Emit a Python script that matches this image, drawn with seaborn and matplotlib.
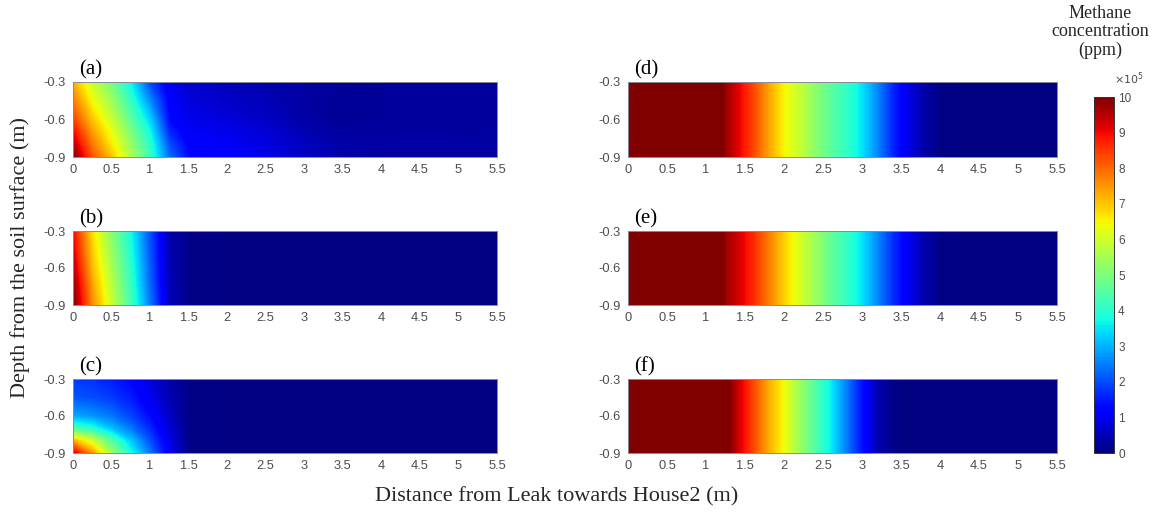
import numpy as np
import matplotlib
matplotlib.use("Agg")
import matplotlib.pyplot as plt
import seaborn as sns

# methane concentration, units of 1e5 ppm
# left column (a)-(c): 2-D fields on a depth x distance grid
x_left = [0, 0.25, 0.5, 0.75, 1.0, 1.25, 1.5, 2.0, 2.5, 3.0, 3.5, 4.0, 4.5, 5.5]
depth_left = [-0.3, -0.45, -0.6, -0.7, -0.8, -0.9]

conc_a = [
    [7.2, 5.9, 4.9, 3.6, 1.9, 1.0, 0.7, 0.5, 0.4, 0.3, 0.25, 0.25, 0.3, 0.3],
    [7.8, 6.4, 5.4, 4.1, 2.6, 1.15, 0.8, 0.65, 0.5, 0.3, 0.2, 0.25, 0.3, 0.3],
    [8.4, 7.0, 5.9, 4.6, 3.3, 1.3, 0.95, 0.8, 0.6, 0.35, 0.2, 0.25, 0.3, 0.3],
    [9.0, 7.4, 6.3, 5.0, 3.7, 1.6, 1.05, 0.95, 0.75, 0.45, 0.28, 0.28, 0.3, 0.3],
    [9.5, 7.8, 6.6, 5.3, 4.0, 2.0, 1.2, 1.05, 0.85, 0.55, 0.35, 0.32, 0.32, 0.3],
    [10.0, 8.2, 7.0, 5.6, 4.2, 2.3, 1.3, 1.15, 0.95, 0.6, 0.4, 0.35, 0.35, 0.3],
]
conc_b = [
    [9.0, 6.7, 5.1, 3.7, 2.0, 0.4, 0.1, 0.05, 0.05, 0.05, 0.05, 0.05, 0.05, 0.05],
    [9.2, 6.9, 5.3, 3.85, 2.05, 0.42, 0.1, 0.05, 0.05, 0.05, 0.05, 0.05, 0.05, 0.05],
    [9.5, 7.1, 5.5, 4.0, 2.15, 0.45, 0.1, 0.05, 0.05, 0.05, 0.05, 0.05, 0.05, 0.05],
    [9.7, 7.3, 5.65, 4.1, 2.2, 0.47, 0.1, 0.05, 0.05, 0.05, 0.05, 0.05, 0.05, 0.05],
    [9.9, 7.45, 5.8, 4.2, 2.3, 0.5, 0.1, 0.05, 0.05, 0.05, 0.05, 0.05, 0.05, 0.05],
    [10.0, 7.6, 5.9, 4.3, 2.4, 0.5, 0.1, 0.05, 0.05, 0.05, 0.05, 0.05, 0.05, 0.05],
]
conc_c = [
    [1.8, 1.7, 1.5, 1.25, 0.8, 0.35, 0.1, 0.05, 0.05, 0.05, 0.05, 0.05, 0.05, 0.05],
    [2.1, 2.0, 1.8, 1.5, 1.0, 0.45, 0.1, 0.05, 0.05, 0.05, 0.05, 0.05, 0.05, 0.05],
    [2.9, 2.7, 2.4, 1.9, 1.3, 0.6, 0.1, 0.05, 0.05, 0.05, 0.05, 0.05, 0.05, 0.05],
    [4.4, 3.9, 3.1, 2.4, 1.6, 0.75, 0.1, 0.05, 0.05, 0.05, 0.05, 0.05, 0.05, 0.05],
    [7.2, 6.0, 4.5, 3.2, 2.0, 0.9, 0.1, 0.05, 0.05, 0.05, 0.05, 0.05, 0.05, 0.05],
    [9.3, 7.5, 5.4, 3.8, 2.4, 1.0, 0.1, 0.05, 0.05, 0.05, 0.05, 0.05, 0.05, 0.05],
]

# right column (d)-(f): uniform with depth, profile along distance
x_right = [0, 1.0, 1.2, 1.3, 1.4, 1.6, 1.8, 2.0, 2.2, 2.4, 2.6, 2.8,
           3.0, 3.2, 3.4, 3.6, 3.8, 4.0, 4.5, 5.5]
depth_right = [-0.3, -0.9]
prof_d = [10, 10, 10, 9.6, 9.2, 8.4, 7.4, 6.5, 5.9, 5.2, 4.6, 4.1,
          3.5, 2.6, 1.6, 0.9, 0.35, 0.1, 0.0, 0.0]
prof_e = [10, 10, 10, 9.6, 9.3, 8.7, 7.8, 6.9, 6.1, 5.4, 4.7, 4.15,
          3.5, 2.6, 1.7, 1.0, 0.4, 0.1, 0.0, 0.0]
prof_f = [10, 10, 10, 10, 9.4, 8.4, 7.3, 6.4, 5.4, 4.5, 3.6, 2.5,
          1.4, 0.45, 0.1, 0.0, 0.0, 0.0, 0.0, 0.0]

x_ticks = [0, 0.5, 1, 1.5, 2, 2.5, 3, 3.5, 4, 4.5, 5, 5.5]
x_tick_labels = ['0', '0.5', '1', '1.5', '2', '2.5', '3', '3.5', '4', '4.5', '5', '5.5']
y_ticks = [-0.9, -0.6, -0.3]
y_tick_labels = ['-0.9', '-0.6', '-0.3']
cbar_ticks = list(range(0, 11))

sns.set_theme(style="white")
plt.rcParams['font.family'] = ['Liberation Sans', 'DejaVu Sans']
TICK_GRAY = '#4d4d4d'
SERIF = ['Liberation Serif', 'DejaVu Serif']
cmap = matplotlib.colormaps['jet']
levels = np.linspace(0, 10, 201)

fig = plt.figure(figsize=(11.52, 5.16), dpi=100)

W, H = 1152.0, 516.0
def box(left, top, right, bottom):
    return [left / W, 1 - bottom / H, (right - left) / W, (bottom - top) / H]

rows = [(82, 157), (231, 305), (379, 453)]
panels = [
    ('(a)', x_left, depth_left, np.array(conc_a), (73, 497), rows[0]),
    ('(b)', x_left, depth_left, np.array(conc_b), (73, 497), rows[1]),
    ('(c)', x_left, depth_left, np.array(conc_c), (73, 497), rows[2]),
    ('(d)', x_right, depth_right, np.tile(prof_d, (2, 1)), (628, 1057), rows[0]),
    ('(e)', x_right, depth_right, np.tile(prof_e, (2, 1)), (628, 1057), rows[1]),
    ('(f)', x_right, depth_right, np.tile(prof_f, (2, 1)), (628, 1057), rows[2]),
]

for tag, xs, ds, vals, (l, r), (t, b) in panels:
    ax = fig.add_axes(box(l, t, r, b))
    X, Y = np.meshgrid(xs, ds)
    ax.contourf(X, Y, vals, levels=levels, cmap=cmap, extend='both',
                antialiased=False)
    ax.set_xlim(0, 5.5)
    ax.set_ylim(-0.9, -0.3)
    ax.set_xticks(x_ticks)
    ax.set_xticklabels(x_tick_labels)
    ax.set_yticks(y_ticks)
    ax.set_yticklabels(y_tick_labels)
    ax.tick_params(axis='both', direction='in', length=3, width=0.6,
                   colors=TICK_GRAY, labelsize=9.3, pad=5)
    for sp in ax.spines.values():
        sp.set_color('#8a8a9a')
        sp.set_linewidth(0.7)
    ax.text(0.015, 1.035, tag, transform=ax.transAxes, family=SERIF,
            fontsize=15, ha='left', va='bottom', color='black')

# colour bar
cax = fig.add_axes(box(1094, 97, 1114, 453))
sm = matplotlib.cm.ScalarMappable(norm=matplotlib.colors.Normalize(0, 10), cmap=cmap)
cb = fig.colorbar(sm, cax=cax, ticks=cbar_ticks)
cb.ax.tick_params(direction='in', length=3, width=0.6, colors=TICK_GRAY,
                  labelsize=8.5, pad=3)
cb.outline.set_edgecolor('#333333')
cb.outline.set_linewidth(0.7)
cax.text(1.0, 1.027, r'$\times10^5$', transform=cax.transAxes, ha='left',
         va='bottom', fontsize=8, color=TICK_GRAY)

fig.text(1100 / W, 1 - 5 / H, 'Methane\nconcentration\n(ppm)', family=SERIF,
         fontsize=13, ha='center', va='top', linespacing=1.1)

fig.text(20 / W, 1 - 257 / H, 'Depth from the soil surface (m)', family=SERIF,
         fontsize=16, rotation=90, ha='center', va='center')
fig.text(557 / W, 1 - 497 / H, 'Distance from Leak towards House2 (m)',
         family=SERIF, fontsize=16, ha='center', va='center')

fig.savefig('out.png', dpi=100)
